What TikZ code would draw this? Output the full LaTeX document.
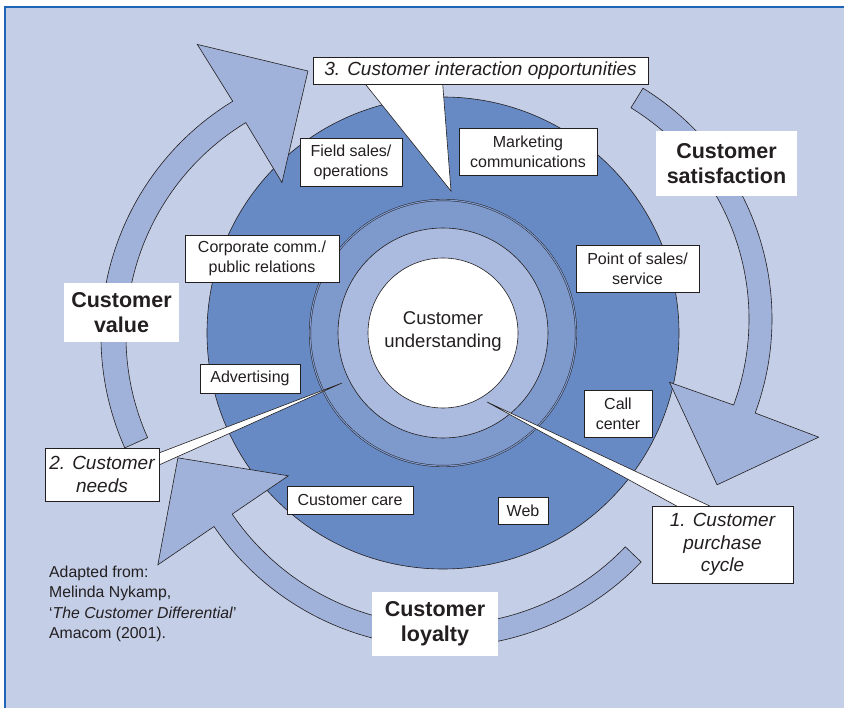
\documentclass[tikz,border=0pt]{standalone}
\usepackage{fontspec}
\setmainfont{Liberation Sans}
\definecolor{bgc}{HTML}{C4CEE7}
\definecolor{mainc}{HTML}{6789C4}
\definecolor{ringa}{HTML}{7E99CC}
\definecolor{ringb}{HTML}{ABBBDF}
\definecolor{arrowc}{HTML}{A0B2DA}
\definecolor{borderc}{HTML}{1E66B5}
\definecolor{inkc}{HTML}{231F20}
\tikzset{
  box/.style={draw=inkc, line width=0.7pt, fill=white, inner sep=0pt, align=center, text=inkc,
    font=\fontsize{16}{20}\selectfont},
  callout/.style={box, font=\fontsize{19}{22.7}\selectfont\itshape},
  biglabel/.style={fill=white, inner sep=0pt, align=center, text=inkc,
    font=\fontsize{21.5}{25}\selectfont\bfseries},
  bigarrow/.style={fill=arrowc, draw=inkc, line width=0.6pt, line join=miter},
  pointer/.style={fill=white, draw=inkc, line width=0.6pt, line join=miter},
  ringline/.style={draw=inkc, line width=0.6pt}
}
\begin{document}
\begin{tikzpicture}[x=1pt,y=1pt]
\useasboundingbox (0,0) rectangle (844,-708);
% background frame
\fill[bgc] (5,-7) rectangle (850,-715);
\draw[borderc, line width=1.8pt] (5,-715) -- (5,-7) -- (850,-7);

% central circles
\coordinate (ctr) at (443,-333);
\filldraw[fill=mainc, ringline] (ctr) circle[radius=236pt];
\fill[ringa] (ctr) circle[radius=133pt];
\draw[inkc, line width=0.45pt, double=ringa, double distance=1.1pt] (ctr) circle[radius=133pt];
\filldraw[fill=ringb, ringline] (ctr) circle[radius=105pt];
\filldraw[fill=white, ringline] (ctr) circle[radius=75pt];
\node[inner sep=0pt, align=center, text=inkc, font=\fontsize{18.5}{23}\selectfont] (cu) at (443,-331) {Customer\\understanding};

% left arrow (customer value)
\begin{scope}[shift={(376,-336)}]
\filldraw[bigarrow] (204:250) arc[start angle=204, end angle=121.4, radius=250pt]
  -- (121.5:180) -- (104.4:273.6) -- (121.5:342) -- (121.4:275)
  arc[start angle=121.4, end angle=204, radius=275pt] -- cycle;
\end{scope}
% right arrow (customer satisfaction)
\begin{scope}[shift={(501,-319)}]
\filldraw[bigarrow] (58.4:248) arc[start angle=58.4, end angle=-20.3, radius=248pt]
  -- (-20.6:180) -- (-37.5:272.4) -- (-20.4:339) -- (-20.3:271)
  arc[start angle=-20.3, end angle=58.4, radius=271pt] -- cycle;
\end{scope}
% bottom arrow (customer loyalty)
\begin{scope}[shift={(442,-371)}]
\filldraw[bigarrow] (-43.8:254) arc[start angle=-43.8, end angle=-145.7, radius=254pt]
  -- (-145.7:186) -- (-161.8:278) -- (-145.7:344) -- (-145.7:276)
  arc[start angle=-145.7, end angle=-43.8, radius=276pt] -- cycle;
\end{scope}

% callout pointers
\coordinate (p3) at (451,-191);
\coordinate (p2) at (342,-383);
\coordinate (p1) at (487,-402);
\filldraw[pointer] (358,-75) -- (p3) -- (442,-75) -- cycle;
\filldraw[pointer] (150,-456.4) -- (p2) -- (150,-469) -- cycle;
\filldraw[pointer] (693,-515) -- (p1) -- (729,-515) -- cycle;

% callout boxes
\node[callout, minimum width=335pt, minimum height=27pt] (c3) at (480.5,-70.5) {3. Customer interaction opportunities};
\node[callout, minimum width=114pt, minimum height=53pt] (c2) at (102,-474.5) {2. Customer\\needs};
\node[callout, minimum width=141pt, minimum height=77pt] (c1) at (722.5,-544.5) {1. Customer\\purchase\\cycle};

% channel boxes
\node[box, minimum width=102pt, minimum height=48pt] (field) at (351,-162) {Field sales/\\operations};
\node[box, minimum width=138pt, minimum height=47pt] (mkt) at (528,-151.5) {Marketing\\communications};
\node[box, minimum width=154pt, minimum height=47pt] (corp) at (262,-258.5) {Corporate comm./\\public relations};
\node[box, minimum width=123pt, minimum height=47pt] (pos) at (637.5,-268.5) {Point of sales/\\service};
\node[box, minimum width=100pt, minimum height=29pt] (adv) at (250,-378.5) {Advertising};
\node[box, minimum width=68pt, minimum height=47pt] (call) at (618,-413.5) {Call\\center};
\node[box, minimum width=126pt, minimum height=28pt] (care) at (350,-500) {Customer care};
\node[box, minimum width=50pt, minimum height=27pt] (web) at (523,-510.5) {Web};

% big labels
\node[biglabel, minimum width=141pt, minimum height=65pt] (sat) at (726.5,-163.5) {Customer\\satisfaction};
\node[biglabel, minimum width=115pt, minimum height=59pt] (val) at (121.5,-312.5) {Customer\\value};
\node[biglabel, minimum width=126pt, minimum height=64pt] (loy) at (435,-624) {Customer\\loyalty};

% source note
\node[anchor=north west, inner sep=0pt, align=left, text=inkc, font=\fontsize{15.8}{20.3}\selectfont] (src) at (49,-566)
  {Adapted from:\\Melinda Nykamp,\\‘\textit{The Customer Differential}’\\Amacom (2001).};
\end{tikzpicture}
\end{document}
